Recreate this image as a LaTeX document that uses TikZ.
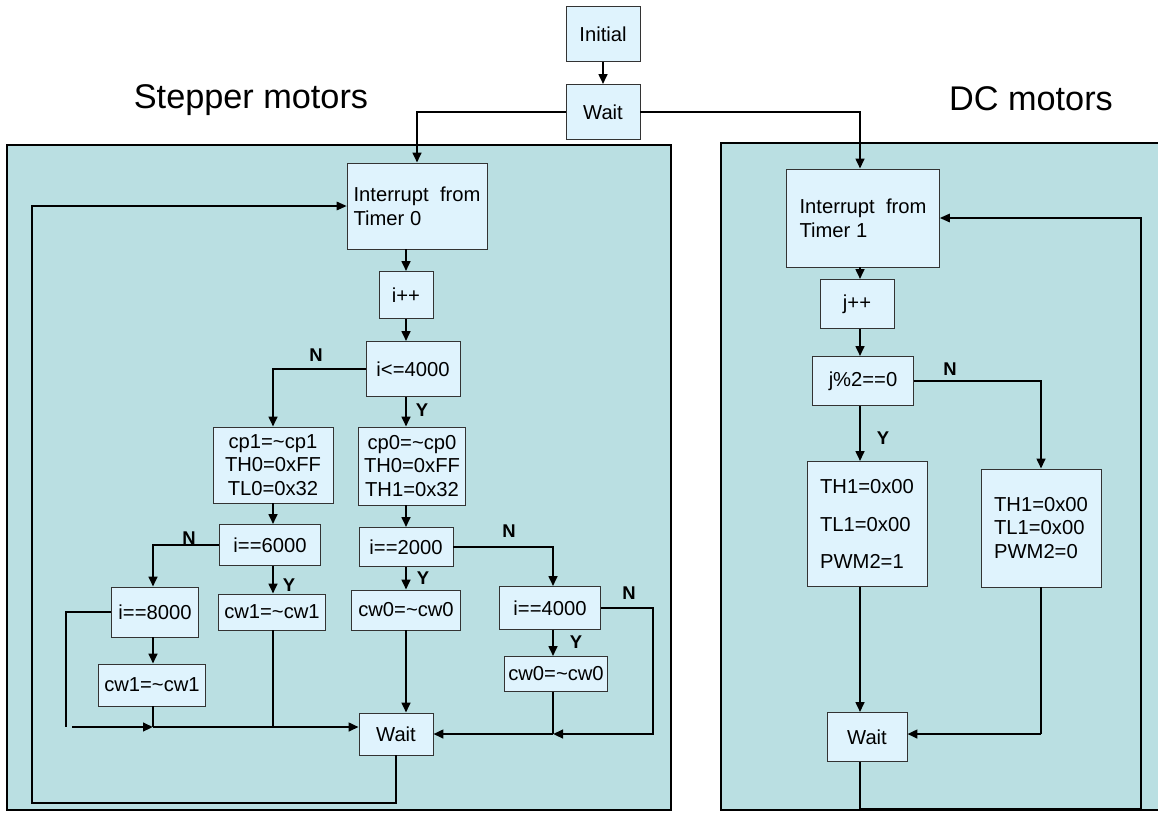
\documentclass[tikz,border=0pt]{standalone}
\usepackage{fontspec}
\setmainfont{Liberation Sans}
\usetikzlibrary{arrows.meta}
\definecolor{panelfill}{RGB}{186,223,226}
\definecolor{boxfill}{RGB}{223,243,253}
\tikzset{
  box/.style={draw=black!80, fill=boxfill, inner sep=2pt, font=\fontsize{11.5}{13.5}\selectfont},
  flow/.style={line width=1.6pt, -{Triangle[length=2.0mm,width=1.7mm]}},
  link/.style={line width=0.8pt},
  loopline/.style={line width=0.9pt, -{Triangle[length=2.0mm,width=1.7mm]}},
  yn/.style={font=\fontsize{10.5}{12}\selectfont\bfseries},
  panel/.style={draw=black, line width=1.1pt, fill=panelfill},
  title/.style={font=\fontsize{19.5}{22}\selectfont, anchor=base}
}
\begin{document}
\begin{tikzpicture}[x=0.02cm, y=-0.02cm]
    \useasboundingbox (0,0) rectangle (1158,812);
    % the two panels
    \filldraw[panel] (7,145) rectangle (671,810);
    \filldraw[panel] (721,143) rectangle (1175,810);
    \node[title] (stepper) at (251,108) {Stepper motors};
    \node[title] (dcmotors) at (1031,110) {DC motors};

    % start
    \node[box, minimum width=1.48cm, minimum height=1.10cm] (init) at (603,34) {Initial};
    \node[box, minimum width=1.48cm, minimum height=1.10cm] (wait0) at (603,112) {Wait};

    % columns for the vertical arrows
    \coordinate (colA) at (406,0);
    \coordinate (colB) at (273,0);
    \coordinate (colC) at (153,0);
    \coordinate (colD) at (553,0);
    \coordinate (colE) at (860,0);

    % stepper motors
    \node[box, minimum width=2.80cm, minimum height=1.72cm, align=left] (intA) at (417,206) {Interrupt\ \ from\\Timer 0};
    \node[box, minimum width=1.08cm, minimum height=0.94cm] (iinc) at (406,295) {i++};
    \node[box, minimum width=1.88cm, minimum height=1.10cm] (ile) at (413,369) {i<=4000};
    \node[box, minimum width=2.40cm, minimum height=1.52cm, align=center] (cpA) at (273,465) {cp1=\textasciitilde cp1\\TH0=0xFF\\TL0=0x32};
    \node[box, minimum width=2.14cm, minimum height=1.56cm, align=center] (cpB) at (412,466) {cp0=\textasciitilde cp0\\TH0=0xFF\\TH1=0x32};
    \node[box, minimum width=2.02cm, minimum height=0.82cm] (isix) at (270,545) {i==6000};
    \node[box, minimum width=2.14cm, minimum height=0.72cm] (cwA) at (272,612) {cw1=\textasciitilde cw1};
    \node[box, minimum width=1.74cm, minimum height=1.00cm] (ieight) at (155,612) {i==8000};
    \node[box, minimum width=2.14cm, minimum height=0.84cm] (cwB) at (152,685) {cw1=\textasciitilde cw1};
    \node[box, minimum width=1.88cm, minimum height=0.78cm] (itwo) at (406,547) {i==2000};
    \node[box, minimum width=2.18cm, minimum height=0.80cm] (cwC) at (406,610) {cw0=\textasciitilde cw0};
    \node[box, minimum width=2.02cm, minimum height=0.86cm] (ifour) at (550,608) {i==4000};
    \node[box, minimum width=2.02cm, minimum height=0.70cm] (cwD) at (556,674) {cw0=\textasciitilde cw0};
    \node[box, minimum width=1.48cm, minimum height=0.84cm] (waitA) at (396,734) {Wait};

    \coordinate (dropA) at (66,727);
    \coordinate (mergeA) at (72,727);
    \coordinate (mergeB) at (653,734);
    \coordinate (loopA) at (32,803);

    \draw[flow] (init) -- (wait0);
    \draw[flow] (wait0.west) -| (intA.north);
    \draw[flow] (colA |- intA.south) -- (colA |- iinc.north);
    \draw[flow] (colA |- iinc.south) -- (colA |- ile.north);
    \draw[flow] (ile.west) -| (cpA.north);
    \draw[flow] (colA |- ile.south) -- (colA |- cpB.north);
    \draw[flow] (colB |- cpA.south) -- (colB |- isix.north);
    \draw[flow] (colA |- cpB.south) -- (colA |- itwo.north);
    \draw[flow] (isix.west) -| (colC |- ieight.north);
    \draw[flow] (colB |- isix.south) -- (colB |- cwA.north);
    \draw[flow] (colC |- ieight.south) -- (colC |- cwB.north);
    \draw[link] (ieight.west) -| (dropA);
    \draw[link] (colC |- cwB.south) -- (colC |- mergeA);
    \draw[link] (colB |- cwA.south) -- (colB |- mergeA);
    \draw[flow] (mergeA) -- (colC |- mergeA);
    \draw[flow] (colC |- mergeA) -- (waitA.west |- mergeA);
    \draw[flow] (colA |- itwo.south) -- (colA |- cwC.north);
    \draw[flow] (colA |- cwC.south) -- (colA |- waitA.north);
    \draw[flow] (itwo.east) -| (colD |- ifour.north);
    \draw[flow] (colD |- ifour.south) -- (colD |- cwD.north);
    \draw[flow] (ifour.east) -| (mergeB) -- (colD |- mergeB);
    \draw[link] (colD |- cwD.south) -- (colD |- mergeB);
    \draw[flow] (colD |- mergeB) -- (waitA.east |- mergeB);
    \draw[loopline] (waitA.south) |- (loopA) |- (intA.west);

    \node[yn] (nA) at (316,355) {N};
    \node[yn] (yA) at (422,410) {Y};
    \node[yn] (nB) at (189,538) {N};
    \node[yn] (yB) at (289,585) {Y};
    \node[yn] (yC) at (423,578) {Y};
    \node[yn] (nC) at (509,531) {N};
    \node[yn] (nD) at (629,593) {N};
    \node[yn] (yD) at (576,642) {Y};

    % dc motors
    \node[box, minimum width=3.06cm, minimum height=1.96cm, align=left] (intB) at (863,218) {Interrupt\ \ from\\Timer 1};
    \node[box, minimum width=1.48cm, minimum height=0.98cm] (jinc) at (857,304) {j++};
    \node[box, minimum width=2.02cm, minimum height=0.98cm] (jmod) at (863,381) {j\%2==0};
    \node[box, minimum width=2.40cm, minimum height=2.50cm, align=left] (dcA) at (867,524) {TH1=0x00\\[8pt]TL1=0x00\\[8pt]PWM2=1};
    \node[box, minimum width=2.40cm, minimum height=2.36cm, align=left] (dcB) at (1041,528) {TH1=0x00\\TL1=0x00\\PWM2=0};
    \node[box, minimum width=1.60cm, minimum height=0.98cm] (waitB) at (867,737) {Wait};

    \coordinate (mergeC) at (1041,734);
    \coordinate (loopB) at (1141,809);

    \draw[flow] (wait0.east) -| (colE |- intB.north);
    \draw[flow] (colE |- intB.south) -- (colE |- jinc.north);
    \draw[flow] (colE |- jinc.south) -- (colE |- jmod.north);
    \draw[flow] (colE |- jmod.south) -- (colE |- dcA.north);
    \draw[flow] (jmod.east) -| (dcB.north);
    \draw[flow] (colE |- dcA.south) -- (colE |- waitB.north);
    \draw[link] (dcB.south) -- (mergeC);
    \draw[flow] (mergeC) -- (waitB.east |- mergeC);
    \draw[loopline] (colE |- waitB.south) |- (loopB) |- (intB.east);

    \node[yn] (nE) at (950,369) {N};
    \node[yn] (yE) at (883,438) {Y};
\end{tikzpicture}
\end{document}
